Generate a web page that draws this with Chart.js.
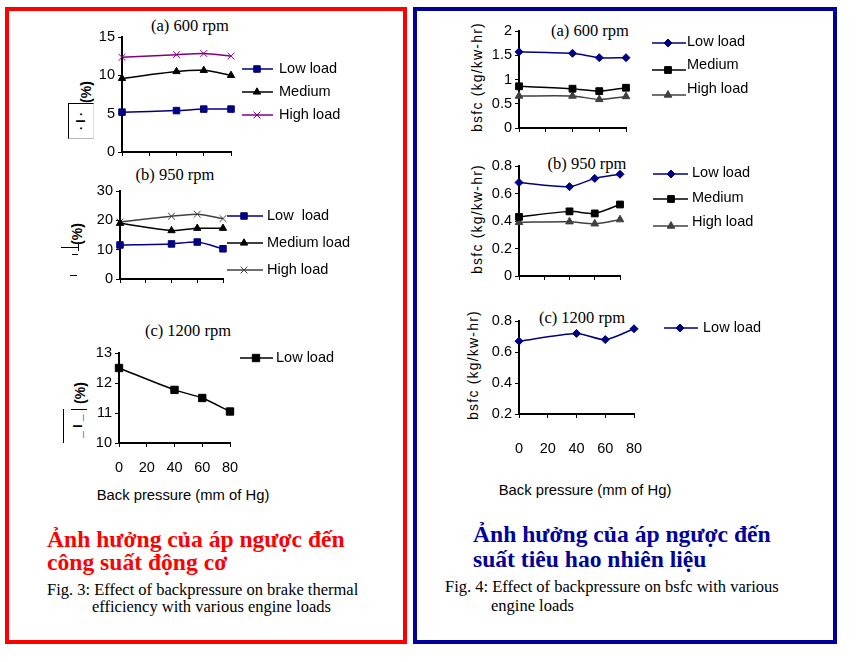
<!DOCTYPE html>
<html><head><meta charset="utf-8">
<script src="https://cdn.jsdelivr.net/npm/chart.js@4.4.1/dist/chart.umd.min.js"></script>
<style>
html,body{margin:0;padding:0;background:#fff;}
#page{position:relative;width:862px;height:662px;overflow:hidden;background:#fff;}
canvas.full{position:absolute;left:0;top:0;}
.t{position:absolute;white-space:nowrap;line-height:1;}
.ttl{font-family:"Liberation Serif","Times New Roman",serif;font-size:16.5px;color:#000;transform:translate(-50%,-50%);}
.ax{font-family:"Liberation Sans",Arial,sans-serif;font-size:14.8px;color:#000;transform:translate(-50%,-50%);}
.rot{font-family:"Liberation Sans",Arial,sans-serif;font-size:14px;color:#000;transform:translate(-50%,-50%) rotate(-90deg);}
.vn{font-family:"Liberation Serif","Times New Roman",serif;font-weight:bold;font-size:23.6px;}
.cap{font-family:"Liberation Serif","Times New Roman",serif;font-size:16.5px;color:#000;}
.box{position:absolute;}
</style>
</head><body>
<div id="page">
  <div class="box" style="left:5px;top:7px;width:394px;height:629px;border:4px solid #ff0000;"></div>
  <div class="box" style="left:413px;top:7px;width:416px;height:629px;border:4px solid #00009c;"></div>

  <div class="t ttl" style="left:190px;top:26px;">(a) 600 rpm</div>
  <div class="t ttl" style="left:175px;top:175px;">(b) 950 rpm</div>
  <div class="t ttl" style="left:188px;top:331px;">(c) 1200 rpm</div>
  <div class="t ttl" style="left:590px;top:31px;">(a) 600 rpm</div>
  <div class="t ttl" style="left:587px;top:164px;">(b) 950 rpm</div>
  <div class="t ttl" style="left:582px;top:318px;">(c) 1200 rpm</div>

  <div class="t ax" style="left:183px;top:495px;">Back pressure (mm of Hg)</div>
  <div class="t ax" style="left:585px;top:490px;">Back pressure (mm of Hg)</div>

  <div class="t rot" style="left:477px;top:77px;letter-spacing:1.2px;">bsfc (kg/kw-hr)</div>
  <div class="t rot" style="left:477px;top:219px;letter-spacing:1.2px;">bsfc (kg/kw-hr)</div>
  <div class="t rot" style="left:473px;top:365px;letter-spacing:1.2px;">bsfc (kg/kw-hr)</div>

  <div class="t rot" style="left:86px;top:92px;font-weight:bold;">(%)</div>
  <div class="box" style="left:68px;top:103px;width:24px;height:34px;border-left:1px solid #000;border-top:1px solid #000;border-bottom:1px solid #bbb;border-right:1px solid #ddd;"></div>
  <div class="t rot" style="left:81px;top:121px;font-size:12px;font-weight:bold;">· I ·</div>

  <div class="t rot" style="left:77px;top:234px;font-weight:bold;">(%)</div>
  <div class="box" style="left:61px;top:247px;width:17px;height:1px;background:#000;"></div>
  <div class="box" style="left:78px;top:242px;width:1px;height:9px;background:#000;"></div>
  <div class="box" style="left:72px;top:254px;width:6px;height:1px;background:#000;"></div>
  <div class="box" style="left:70px;top:275px;width:7px;height:1px;background:#000;"></div>

  <div class="t rot" style="left:80px;top:393px;font-weight:bold;">(%)</div>
  <div class="box" style="left:63px;top:409px;width:1px;height:34px;background:#000;"></div>
  <div class="box" style="left:71px;top:409px;width:16px;height:1px;background:#000;"></div>
  <div class="t rot" style="left:78px;top:426px;font-size:12px;font-weight:bold;">_ I _</div>

  <div class="t vn" style="left:47px;top:528px;color:#ff0000;">Ảnh hưởng của áp ngược đến</div>
  <div class="t vn" style="left:47px;top:551px;color:#ff0000;">công suất động cơ</div>
  <div class="t cap" style="left:47px;top:582px;">Fig. 3: Effect of backpressure on brake thermal</div>
  <div class="t cap" style="left:92px;top:599px;">efficiency with various engine loads</div>

  <div class="t vn" style="left:473px;top:523px;color:#00009c;">Ảnh hưởng của áp ngược đến</div>
  <div class="t vn" style="left:473px;top:548px;color:#00009c;">suất tiêu hao nhiên liệu</div>
  <div class="t cap" style="left:445px;top:579px;">Fig. 4: Effect of backpressure on bsfc with various</div>
  <div class="t cap" style="left:491px;top:598px;">engine loads</div>
</div>
<script>
// ---------- data ----------
const backPressure = [0, 40, 60, 80];           // mm of Hg
const xTicks = [0, 20, 40, 60, 80];

// Fig. 3 : brake thermal efficiency (%)
const bte600Low    = [5.2, 5.4, 5.6, 5.6];
const bte600Medium = [9.6, 10.5, 10.65, 10.0];
const bte600High   = [12.35, 12.7, 12.85, 12.5];
const bte950Low    = [11.6, 11.95, 12.6, 10.3];
const bte950Medium = [19.0, 16.5, 17.3, 17.3];
const bte950High   = [19.4, 21.4, 22.1, 20.6];
const bte1200Low   = [12.5, 11.77, 11.5, 11.05];
const bteTicks600  = [0, 5, 10, 15];
const bteTicks950  = [0, 10, 20, 30];
const bteTicks1200 = [10, 11, 12, 13];

// Fig. 4 : bsfc (kg/kw-hr)
const bsfc600Low    = [1.57, 1.54, 1.45, 1.45];
const bsfc600Medium = [0.86, 0.81, 0.76, 0.83];
const bsfc600High   = [0.66, 0.66, 0.59, 0.65];
const bsfc950Low    = [0.68, 0.65, 0.71, 0.74];
const bsfc950Medium = [0.43, 0.47, 0.455, 0.52];
const bsfc950High   = [0.39, 0.395, 0.38, 0.41];
const bsfc1200Low   = [0.67, 0.72, 0.68, 0.75];
const bsfcTicks600  = [0, 0.5, 1, 1.5, 2];
const bsfcTicks950  = [0, 0.2, 0.4, 0.6, 0.8];
const bsfcTicks1200 = [0.2, 0.4, 0.6, 0.8];

const labelsA = ['Low load', 'Medium', 'High load'];
const labelsB = ['Low  load', 'Medium load', 'High load'];
const labelsR = ['Low load', 'Medium', 'High load'];

// ---------- helpers ----------
const NAVY = '#000080', PURPLE = '#800080', GREY = '#404040', BLACK = '#000000';
const FONT = '"Liberation Sans", Arial, sans-serif';
const W = 862, H = 662, YW = 40, XH = 40;

function drawMarker(ctx, style, x, y, r, color) {
  ctx.save();
  ctx.fillStyle = color; ctx.strokeStyle = color; ctx.lineWidth = 1;
  ctx.beginPath();
  if (style === 'rect') {
    const s = r * Math.SQRT1_2;
    ctx.rect(x - s, y - s, 2 * s, 2 * s); ctx.fill(); ctx.stroke();
  } else if (style === 'rectRot') {
    ctx.moveTo(x - r, y); ctx.lineTo(x, y - r); ctx.lineTo(x + r, y); ctx.lineTo(x, y + r);
    ctx.closePath(); ctx.fill(); ctx.stroke();
  } else if (style === 'triangle') {
    ctx.moveTo(x, y - r); ctx.lineTo(x + 0.866 * r, y + 0.5 * r); ctx.lineTo(x - 0.866 * r, y + 0.5 * r);
    ctx.closePath(); ctx.fill(); ctx.stroke();
  } else if (style === 'crossRot') {
    const c = r * Math.SQRT1_2;
    ctx.moveTo(x - c, y - c); ctx.lineTo(x + c, y + c);
    ctx.moveTo(x + c, y - c); ctx.lineTo(x - c, y + c); ctx.stroke();
  }
  ctx.restore();
}

function legendPlugin(lg) {
  return {
    id: 'sideLegend',
    afterDraw(chart) {
      const ctx = chart.ctx;
      chart.data.datasets.forEach((ds, i) => {
        const y = lg.ys[i];
        ctx.save();
        ctx.strokeStyle = ds.borderColor; ctx.lineWidth = ds.borderWidth;
        ctx.beginPath(); ctx.moveTo(lg.x0, y); ctx.lineTo(lg.x1, y); ctx.stroke();
        ctx.restore();
        drawMarker(ctx, ds.pointStyle, lg.mx, y, ds.pointRadius, ds.pointBackgroundColor);
        ctx.save();
        ctx.fillStyle = '#000'; ctx.font = '14.5px ' + FONT;
        ctx.textBaseline = 'middle'; ctx.textAlign = 'left';
        ctx.fillText(ds.label, lg.tx, lg.tys ? lg.tys[i] : y);
        ctx.restore();
      });
    }
  };
}

function series(label, values, color, style, radius) {
  return {
    label, data: backPressure.map((x, i) => ({x, y: values[i]})),
    borderColor: color, borderWidth: 1.5, tension: 0.25, cubicInterpolationMode: 'default',
    pointStyle: style, pointRadius: radius, pointHoverRadius: radius,
    pointBackgroundColor: color, pointBorderColor: color, pointBorderWidth: 1,
    clip: false, fill: false
  };
}

const fmt = v => String(Math.round(v * 100) / 100);

function makeChart(cfg) {
  const cv = document.createElement('canvas');
  cv.className = 'full'; cv.width = W; cv.height = H;
  cv.style.width = W + 'px'; cv.style.height = H + 'px';
  document.getElementById('page').appendChild(cv);
  const a = cfg.area;
  new Chart(cv.getContext('2d'), {
    type: 'line',
    data: { datasets: cfg.datasets },
    plugins: [legendPlugin(cfg.legend)],
    options: {
      responsive: false, animation: false, devicePixelRatio: 1,
      events: [],
      layout: { padding: { left: a.l - YW, top: a.t, right: W - a.r, bottom: H - a.b - XH } },
      plugins: { legend: { display: false }, tooltip: { enabled: false }, title: { display: false } },
      scales: {
        x: {
          type: 'linear', min: 0, max: 80,
          afterBuildTicks: s => { s.ticks = xTicks.map(v => ({value: v})); },
          afterFit: s => { s.height = XH; },
          grid: { display: true, drawOnChartArea: false, drawTicks: true, tickLength: 4, color: '#000', lineWidth: 1 },
          border: { display: true, color: '#000', width: 2 },
          ticks: { display: cfg.showX, color: '#000', font: { family: FONT, size: 14.5 }, padding: cfg.xPad || 10, maxRotation: 0, autoSkip: false, callback: fmt }
        },
        y: {
          type: 'linear', min: cfg.yTicks[0], max: cfg.yTicks[cfg.yTicks.length - 1],
          afterBuildTicks: s => { s.ticks = cfg.yTicks.map(v => ({value: v})); },
          afterFit: s => { s.width = YW; },
          grid: { display: true, drawOnChartArea: false, drawTicks: true, tickLength: 4, color: '#000', lineWidth: 1 },
          border: { display: true, color: '#000', width: 2 },
          ticks: { color: '#000', font: { family: FONT, size: 14.5 }, padding: 3, autoSkip: false, callback: fmt }
        }
      }
    }
  });
}

// ---------- Fig. 3 ----------
makeChart({
  area: {l: 122, r: 231, t: 37, b: 152}, yTicks: bteTicks600, showX: false,
  datasets: [
    series(labelsA[0], bte600Low, NAVY, 'rect', 4.6),
    series(labelsA[1], bte600Medium, BLACK, 'triangle', 4.2),
    series(labelsA[2], bte600High, PURPLE, 'crossRot', 4.8)
  ],
  legend: {x0: 242, x1: 273, mx: 257, tx: 279, ys: [69, 92, 115]}
});
makeChart({
  area: {l: 120, r: 223, t: 191, b: 279}, yTicks: bteTicks950, showX: false,
  datasets: [
    series(labelsB[0], bte950Low, NAVY, 'rect', 4.6),
    series(labelsB[1], bte950Medium, BLACK, 'triangle', 4.2),
    series(labelsB[2], bte950High, GREY, 'crossRot', 4.8)
  ],
  legend: {x0: 227, x1: 263, mx: 244, tx: 267, ys: [216, 243, 270]}
});
makeChart({
  area: {l: 119, r: 230, t: 353, b: 443}, yTicks: bteTicks1200, showX: true, xPad: 12,
  datasets: [ series('Low load', bte1200Low, BLACK, 'rect', 5.2) ],
  legend: {x0: 240, x1: 273, mx: 256, tx: 276, ys: [358]}
});

// ---------- Fig. 4 ----------
makeChart({
  area: {l: 519, r: 626, t: 31, b: 128}, yTicks: bsfcTicks600, showX: false,
  datasets: [
    series(labelsR[0], bsfc600Low, NAVY, 'rectRot', 4),
    series(labelsR[1], bsfc600Medium, BLACK, 'rect', 4.8),
    series(labelsR[2], bsfc600High, GREY, 'triangle', 4.4)
  ],
  legend: {x0: 652, x1: 686, mx: 668, tx: 687, ys: [43, 70, 95], tys: [42, 65, 89]}
});
makeChart({
  area: {l: 519, r: 620, t: 166, b: 276}, yTicks: bsfcTicks950, showX: false,
  datasets: [
    series(labelsR[0], bsfc950Low, NAVY, 'rectRot', 4),
    series(labelsR[1], bsfc950Medium, BLACK, 'rect', 4.8),
    series(labelsR[2], bsfc950High, GREY, 'triangle', 4.4)
  ],
  legend: {x0: 653, x1: 688, mx: 671, tx: 692, ys: [174, 199, 226], tys: [173, 198, 222]}
});
makeChart({
  area: {l: 519, r: 634, t: 321, b: 414}, yTicks: bsfcTicks1200, showX: true, xPad: 22,
  datasets: [ series('Low load', bsfc1200Low, NAVY, 'rectRot', 4) ],
  legend: {x0: 664, x1: 698, mx: 680, tx: 703, ys: [328]}
});
</script>
</body></html>
